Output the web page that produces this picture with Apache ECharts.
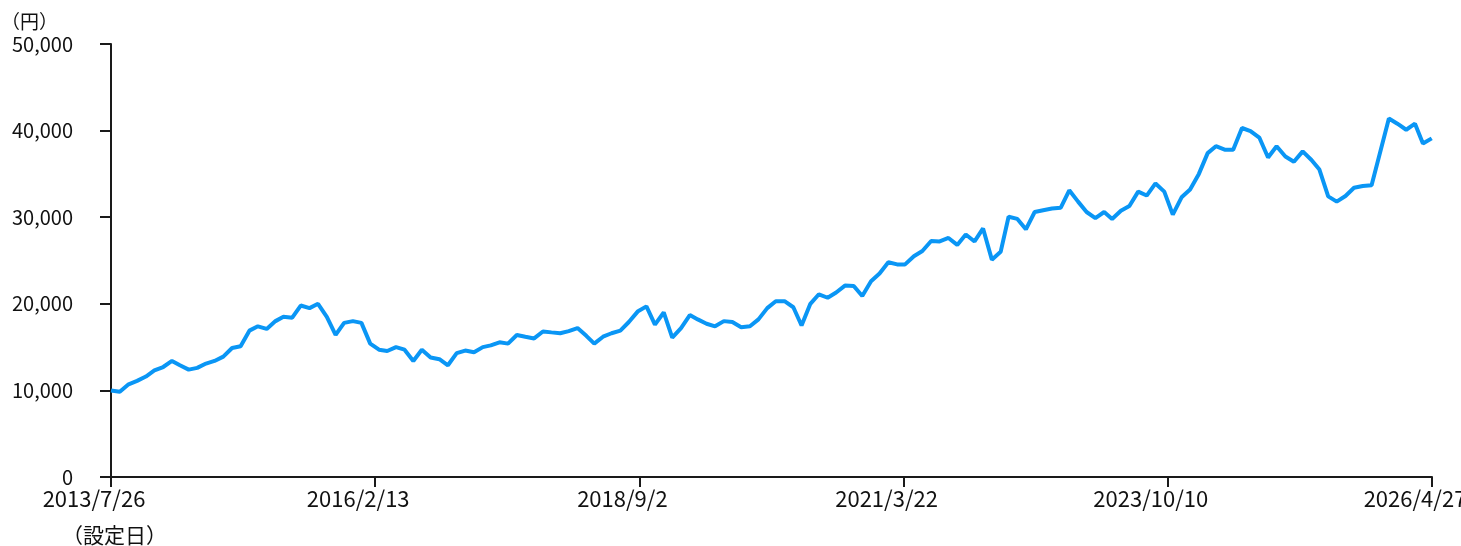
<!DOCTYPE html>
<html>
<head>
<meta charset="utf-8">
<script src="https://cdn.jsdelivr.net/npm/echarts@6/dist/echarts.min.js"></script>
<style>
html,body{margin:0;padding:0;background:#fff;}
#c{width:1461px;height:546px;}
</style>
</head>
<body>
<div id="c"></div>
<script>
// Start date (設定日) and end date of the x axis
var startDate = [2013, 7, 26];
var endDate = [2026, 4, 27];
// x tick labels
var xTickLabels = ['2013/7/26', '2016/2/13', '2018/9/2', '2021/3/22', '2023/10/10', '2026/4/27'];
// y tick values
var yTicks = [0, 10000, 20000, 30000, 40000, 50000];
// monthly values (円), one per month from the start date; null = no value
var values = [
  10000, 9850, 10700, 11100, 11600, 12300, 12700, 13400, 12900, 12400,
  12600, 13100, 13400, 13900, 14900, 15100, 16900, 17400, 17100, 18000,
  18500, 18400, 19800, 19500, 20000, 18500, 16400, 17800, 18000, 17800,
  15400, 14700, 14550, 15000, 14700, 13400, 14700, 13800, 13600, 12900,
  14300, 14600, 14400, 15000, 15200, 15550, 15400, 16400, 16200, 16000,
  16800, 16700, 16600, 16850, 17200, 16300, 15400, 16200, 16600, 16900,
  17900, 19100, 19700, 17600, 19000, 16100, 17200, 18700, 18200, 17700,
  17400, 18000, 17900, 17300, 17400, 18200, 19500, 20300, 20300, 19600,
  17500, 20000, 21100, 20700, 21300, 22100, 22050, 20900, 22600, 23500,
  24800, 24550, 24550, 25500, 26100, 27250, 27200, 27600, 26800, 28000,
  27200, 28700, 25100, 26000, 30050, 29800, 28600, 30600, 30800, 31000,
  31100, 33100, 31800, 30600, 29900, 30600, 29800, 30750, 31300, 32950,
  32500, 33900, 32950, 30300, 32300, 33200, 35000, 37400, 38200, 37800,
  37800, 40300, 39950, 39200, 36900, 38200, 37000, 36400, 37600, 36600,
  35500, 32400, 31800, 32450, 33400, 33600, 33700, null, 41400, 40800,
  40100, 40800, 38500, 39100
];

var DAY = 86400000;
var t0 = Date.UTC(startDate[0], startDate[1] - 1, startDate[2]);
var tEnd = Date.UTC(endDate[0], endDate[1] - 1, endDate[2]);
var totalDays = Math.round((tEnd - t0) / DAY);
var tickStep = totalDays / (xTickLabels.length - 1);

var points = [];
for (var i = 0; i < values.length; i++) {
  if (values[i] === null) continue;
  var t = Date.UTC(startDate[0], startDate[1] - 1 + i, startDate[2]);
  points.push([(t - t0) / DAY, values[i]]);
}

var chart = echarts.init(document.getElementById('c'), null, {renderer: 'canvas'});
var FONT = '"Noto Sans CJK JP", "Noto Sans", sans-serif';
chart.setOption({
  animation: false,
  backgroundColor: '#ffffff',
  grid: {left: 111, right: 29, top: 44, bottom: 69, containLabel: false, outerBoundsMode: 'none'},
  xAxis: {
    type: 'value',
    min: 0,
    max: totalDays,
    interval: tickStep,
    splitLine: {show: false},
    axisLine: {show: true, lineStyle: {color: '#1a1a1a', width: 2}},
    axisTick: {show: true, length: 10, lineStyle: {color: '#1a1a1a', width: 2}},
    axisLabel: {
      show: true,
      margin: 11,
      color: '#111',
      fontFamily: FONT,
      fontSize: 22,
      align: 'center',
      padding: [0, 34, 0, 0],
      showMinLabel: true,
      showMaxLabel: true,
      hideOverlap: false,
      formatter: function (v) {
        var k = Math.round(v / tickStep);
        return xTickLabels[k] || '';
      }
    }
  },
  yAxis: {
    type: 'value',
    min: yTicks[0],
    max: yTicks[yTicks.length - 1],
    interval: yTicks[1] - yTicks[0],
    splitLine: {show: false},
    axisLine: {show: true, lineStyle: {color: '#1a1a1a', width: 2}},
    axisTick: {show: true, length: 11, lineStyle: {color: '#1a1a1a', width: 2}},
    axisLabel: {
      margin: 38,
      color: '#111',
      fontFamily: FONT,
      fontSize: 20,
      formatter: function (v) { return v.toLocaleString('en-US'); }
    }
  },
  graphic: [
    {type: 'text', left: 1, top: 12, style: {text: '（円）', font: '19px ' + FONT, fill: '#111'}},
    {type: 'text', left: 62, top: 525, style: {text: '（設定日）', font: '21px ' + FONT, fill: '#111'}}
  ],
  series: [{
    type: 'line',
    data: points,
    showSymbol: false,
    symbol: 'none',
    lineStyle: {color: '#0a96f5', width: 4},
    z: 3
  }]
});
</script>
</body>
</html>
